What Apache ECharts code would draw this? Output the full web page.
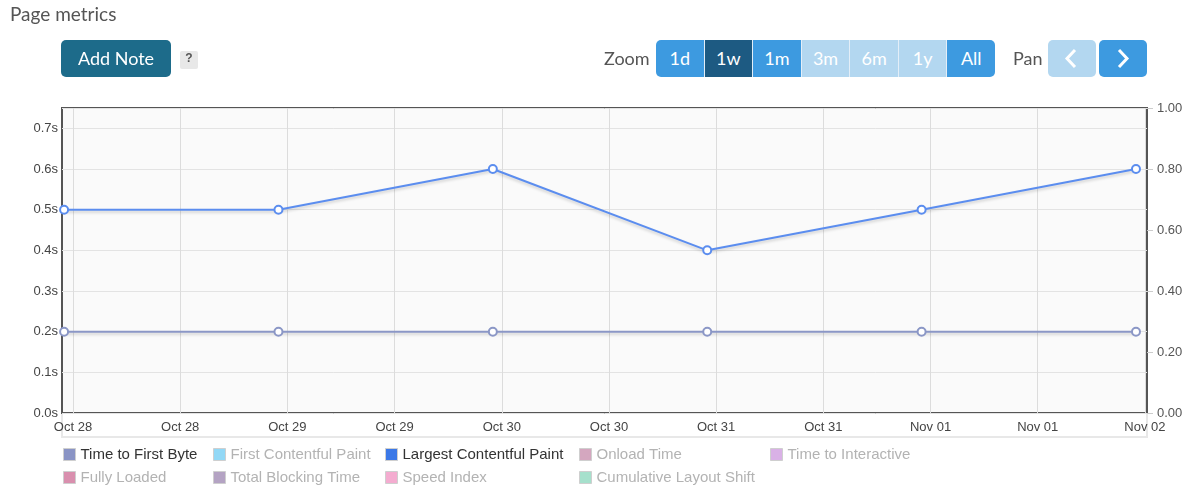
<!DOCTYPE html>
<html>
<head>
<meta charset="utf-8">
<script src="https://cdn.jsdelivr.net/npm/echarts@6/dist/echarts.min.js"></script>
<style>
  body { margin: 0; background: #fff; }
  #wrap { position: relative; width: 1191px; height: 490px; overflow: hidden; font-family: Lato, "Open Sans", sans-serif; }
  #chart { position: absolute; left: 0; top: 0; width: 1191px; height: 490px; }
  .title { position: absolute; left: 10px; top: 2px; font-size: 19px; color: #555; }
  .btn { position: absolute; box-sizing: border-box; height: 37px; line-height: 37px; text-align: center; color: #fff; font-size: 18px; }
  .note { left: 61px; top: 40px; width: 110px; background: #1d6b8a; border-radius: 5px; }
  .help { position: absolute; left: 180px; top: 51px; width: 18px; height: 18px; line-height: 18px; background: #e8e8e8; border-radius: 2px; text-align: center; color: #555; font: bold 12px "Liberation Sans", Arial, sans-serif; }
  .lbl { position: absolute; top: 40px; height: 37px; line-height: 37px; font-size: 18px; color: #555; }
  .zoom { position: absolute; left: 656px; top: 40px; width: 339px; height: 37px; display: flex; border-radius: 5px; overflow: hidden; }
  .zoom div { flex: 1; box-sizing: border-box; height: 37px; line-height: 37px; text-align: center; color: #fff; font-size: 18px; border-left: 1px solid #e3eef8; }
  .zoom div:first-child { border-left: none; }
  .on { background: #3d9ae0; }
  .cur { background: #1d5a82; }
  .off { background: #b3d7f0; }
  .pan { top: 40px; width: 48px; border-radius: 5px; }
  .pan svg { position: absolute; left: 14px; top: 8px; }
</style>
</head>
<body>
<div id="wrap">
  <div id="chart"></div>
  <div class="title">Page metrics</div>
  <div class="btn note">Add Note</div>
  <div class="help">?</div>
  <div class="lbl" style="left:604px">Zoom</div>
  <div class="zoom">
    <div class="on">1d</div><div class="cur">1w</div><div class="on">1m</div><div class="off">3m</div><div class="off">6m</div><div class="off">1y</div><div class="on">All</div>
  </div>
  <div class="lbl" style="left:1013px">Pan</div>
  <div class="btn pan off" style="left:1048px"><svg width="20" height="21"><polyline points="13,2 5,10.5 13,19" fill="none" stroke="#fff" stroke-width="3"/></svg></div>
  <div class="btn pan on" style="left:1099px"><svg width="20" height="21"><polyline points="6,2 14,10.5 6,19" fill="none" stroke="#fff" stroke-width="3"/></svg></div>
</div>
<script>
// measurement times (UTC)
const times = ['2023-10-27T23:00:00Z', '2023-10-28T23:00:00Z', '2023-10-29T23:00:00Z',
               '2023-10-30T23:00:00Z', '2023-10-31T23:00:00Z', '2023-11-01T23:00:00Z'];
const lcpValues = [0.5, 0.5, 0.6, 0.4, 0.5, 0.6];
const ttfbValues = [0.2, 0.2, 0.2, 0.2, 0.2, 0.2];

// x tick positions, every 12 hours
const tickTimes = ['2023-10-28T00:00:00Z', '2023-10-28T12:00:00Z', '2023-10-29T00:00:00Z',
                   '2023-10-29T12:00:00Z', '2023-10-30T00:00:00Z', '2023-10-30T12:00:00Z',
                   '2023-10-31T00:00:00Z', '2023-10-31T12:00:00Z', '2023-11-01T00:00:00Z',
                   '2023-11-01T12:00:00Z', '2023-11-02T00:00:00Z'];
const xMin = '2023-10-27T22:46:00Z';
const xMax = '2023-11-02T00:14:00Z';

const leftTicks = [0, 0.75, 0.1];
const rightTicks = [0, 1, 0.2];

const legendNames = ['Time to First Byte', 'First Contentful Paint', 'Largest Contentful Paint',
                     'Onload Time', 'Time to Interactive', 'Fully Loaded', 'Total Blocking Time',
                     'Speed Index', 'Cumulative Layout Shift'];
const legendColors = ['#8a94c5', '#92d8f6', '#3b78e7', '#d4a7bf', '#d9b1e6',
                      '#d98fae', '#b4a3c3', '#f4acd0', '#a6e0cc'];
const legendActive = [true, false, true, false, false, false, false, false, false];

const months = ['Jan', 'Feb', 'Mar', 'Apr', 'May', 'Jun', 'Jul', 'Aug', 'Sep', 'Oct', 'Nov', 'Dec'];
const toMs = s => new Date(s).getTime();

const chart = echarts.init(document.getElementById('chart'));

const legendLeft = [63, 213, 385, 579, 770];
const legendTop = [447, 470];
const legends = legendNames.map((name, i) => ({
  data: [name],
  left: legendLeft[i % 5],
  top: legendTop[Math.floor(i / 5)],
  padding: 0,
  icon: 'rect',
  itemWidth: 12,
  itemHeight: 12,
  selectedMode: false,
  itemStyle: { color: legendColors[i], borderColor: '#cfcfcf', borderWidth: 1 },
  textStyle: {
    fontFamily: '"Liberation Sans", Arial, sans-serif',
    fontSize: 15,
    color: legendActive[i] ? '#333' : '#b3b3b3'
  }
}));

const lineSeries = (name, values, color, z) => ({
  name: name,
  type: 'line',
  yAxisIndex: 0,
  data: times.map((t, i) => [toMs(t), values[i]]),
  clip: false,
  z: z,
  symbol: 'circle',
  symbolSize: 8,
  showAllSymbol: true,
  itemStyle: { color: '#fff', borderColor: color, borderWidth: 2 },
  lineStyle: {
    color: color, width: 2,
    shadowColor: 'rgba(0,0,0,0.18)', shadowBlur: 3, shadowOffsetY: 2
  },
  emphasis: { disabled: true },
  animation: false
});

const series = legendNames.map((name, i) => {
  if (name === 'Largest Contentful Paint') return lineSeries(name, lcpValues, '#5b8def', 4);
  if (name === 'Time to First Byte') return lineSeries(name, ttfbValues, '#8b97c6', 3);
  return { name: name, type: 'line', data: [], color: legendColors[i], yAxisIndex: name === 'Cumulative Layout Shift' ? 1 : 0 };
});

const axisFont = { fontFamily: '"Liberation Sans", Arial, sans-serif', fontSize: 13, color: '#444' };

chart.setOption({
  backgroundColor: '#fff',
  animation: false,
  legend: legends,
  graphic: [{
    type: 'rect', z: -1, silent: true,
    shape: { x: 62, y: 413, width: 1085, height: 24 },
    style: { fill: 'none', stroke: '#e8e8e8', lineWidth: 2 }
  }],
  grid: {
    left: 62, right: 44, top: 108, bottom: 77,
    show: true, backgroundColor: '#fafafa', borderColor: '#555', borderWidth: 2
  },
  xAxis: {
    type: 'value',
    min: toMs(xMin),
    max: toMs(xMax),
    axisLine: { show: false },
    axisTick: { show: false, customValues: tickTimes.map(toMs) },
    splitLine: { show: true, lineStyle: { color: '#dcdcdc', width: 1 } },
    axisLabel: Object.assign({}, axisFont, {
      customValues: tickTimes.map(toMs),
      margin: 8,
      formatter: v => {
        const d = new Date(v);
        return months[d.getUTCMonth()] + ' ' + String(d.getUTCDate()).padStart(2, '0');
      }
    })
  },
  yAxis: [{
    type: 'value',
    min: leftTicks[0], max: leftTicks[1], interval: leftTicks[2],
    axisLine: { show: false },
    axisTick: { show: false },
    splitLine: { lineStyle: { color: '#e3e3e3', width: 1 } },
    axisLabel: Object.assign({}, axisFont, {
      margin: 4, showMaxLabel: false,
      formatter: v => v.toFixed(1) + 's'
    })
  }, {
    type: 'value',
    position: 'right',
    min: rightTicks[0], max: rightTicks[1], interval: rightTicks[2],
    axisLine: { show: false },
    axisTick: { show: true, length: 6, lineStyle: { color: '#ccc' } },
    splitLine: { show: false },
    axisLabel: Object.assign({}, axisFont, {
      margin: 10, color: '#555',
      formatter: v => v.toFixed(2)
    })
  }],
  series: series
});
</script>
</body>
</html>
